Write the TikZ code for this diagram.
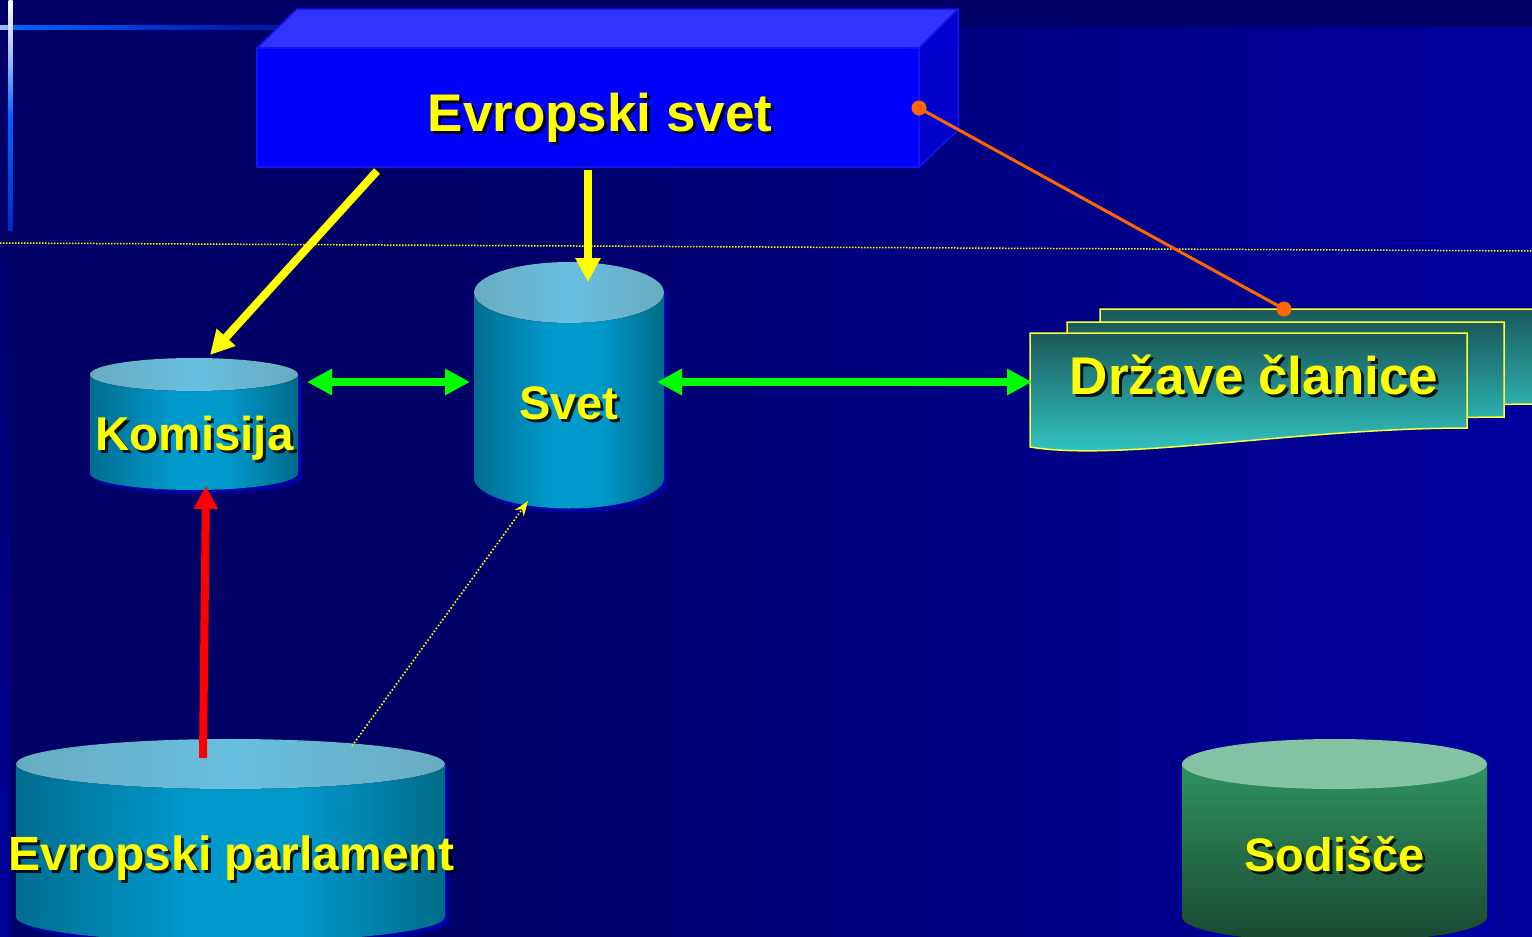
\documentclass[tikz,border=0pt]{standalone}
\usepackage{fontspec}
\setmainfont{Liberation Sans}
\usetikzlibrary{arrows.meta}
\definecolor{bgdark}{HTML}{000066}
\definecolor{bglight}{HTML}{00009A}
\definecolor{glowW}{HTML}{FFFFE4}
\definecolor{glowA}{HTML}{99BBFF}
\definecolor{glowB}{HTML}{0066FF}
\definecolor{glowC}{HTML}{0022BB}
\definecolor{glowD}{HTML}{000099}
\definecolor{boxfront}{HTML}{0000FF}
\definecolor{boxtop}{HTML}{3333FF}
\definecolor{boxside}{HTML}{0000CC}
\definecolor{boxedge}{HTML}{1414F0}
\definecolor{labelyellow}{HTML}{FFFF00}
\definecolor{arrgreen}{HTML}{00FF00}
\definecolor{arrred}{HTML}{FF0000}
\definecolor{arrorange}{HTML}{FF6600}
\definecolor{cylA}{HTML}{004C62}
\definecolor{cylB}{HTML}{0099CC}
\definecolor{cylC}{HTML}{00424F}
\definecolor{ctA}{HTML}{6896A0}
\definecolor{ctB}{HTML}{68C0E0}
\definecolor{sodTop}{HTML}{2F9262}
\definecolor{sodBot}{HTML}{1A4830}
\definecolor{sodCap}{HTML}{84C2A4}
\definecolor{docTop}{HTML}{1A5A5A}
\definecolor{docBot}{HTML}{34CCCC}
\definecolor{docEdge}{HTML}{FFFF33}
\definecolor{cylshadow}{HTML}{0000A8}
\pgfdeclarehorizontalshading{bgshade}{100bp}{color(0bp)=(bgdark); color(38bp)=(bgdark); color(72bp)=(bglight); color(100bp)=(bglight)}
\pgfdeclarehorizontalshading{cylsideshade}{100bp}{color(0bp)=(cylA); color(10bp)=(cylA); color(45bp)=(cylB); color(58bp)=(cylB); color(90bp)=(cylC); color(100bp)=(cylC)}
\pgfdeclarehorizontalshading{cyltopshade}{100bp}{color(0bp)=(ctA); color(50bp)=(ctB); color(100bp)=(ctA)}
\pgfdeclarehorizontalshading{hglow}{100bp}{color(0bp)=(glowW); color(12bp)=(glowW); color(26bp)=(glowA); color(27bp)=(glowB); color(60bp)=(glowC); color(100bp)=(bgdark)}
\pgfdeclareverticalshading{vglow}{100bp}{color(0bp)=(glowD); color(20bp)=(glowC); color(50bp)=(glowB); color(62bp)=(glowA); color(75bp)=(glowW); color(100bp)=(glowW)}
\newcommand\shlabel[4]{%
  \node[lblsh, font={\bfseries\fontsize{#3}{#3}\selectfont}] (#1-sh) at (#2) {#4};
  \node[lbl, font={\bfseries\fontsize{#3}{#3}\selectfont}] (#1) at (#2) {#4};
}
% #1 cx, #2 ytop, #3 ybot, #4 a, #5 b, #6 side style, #7 cap style
\newcommand\mycyl[7]{%
  \fill[cylshadow, shift={(4,4)}] ({#1-#4},#2) -- ({#1-#4},#3)
     .. controls ({#1-#4},{#3+0.5523*#5}) and ({#1-0.5523*#4},{#3+#5}) .. (#1,{#3+#5})
     .. controls ({#1+0.5523*#4},{#3+#5}) and ({#1+#4},{#3+0.5523*#5}) .. ({#1+#4},#3)
     -- ({#1+#4},#2)
     .. controls ({#1+#4},{#2-0.5523*#5}) and ({#1+0.5523*#4},{#2-#5}) .. (#1,{#2-#5})
     .. controls ({#1-0.5523*#4},{#2-#5}) and ({#1-#4},{#2-0.5523*#5}) .. ({#1-#4},#2) -- cycle;
  \fill[#6] ({#1-#4},#2) -- ({#1-#4},#3)
     .. controls ({#1-#4},{#3+0.5523*#5}) and ({#1-0.5523*#4},{#3+#5}) .. (#1,{#3+#5})
     .. controls ({#1+0.5523*#4},{#3+#5}) and ({#1+#4},{#3+0.5523*#5}) .. ({#1+#4},#3)
     -- ({#1+#4},#2) -- cycle;
  \fill[#7] (#1,#2) ellipse [x radius=#4, y radius=#5];
}
\newcommand\docpage[2]{%
  \filldraw[docstyle, shift={(#1,#2)}] (1030,333) -- (1467,333) -- (1467,428)
     .. controls (1300,428) and (1120,462) .. (1030,447) -- cycle;
}
\tikzset{
  lbl/.style={text=labelyellow, inner sep=0pt, anchor=base},
  lblsh/.style={text=black, opacity=.85, inner sep=0pt, anchor=base, xshift=3pt, yshift=-3pt},
  fatyellow/.style={draw=labelyellow, line width=8pt, -{Triangle[length=24pt,width=24pt]}},
  fatred/.style={draw=arrred, line width=8pt, -{Triangle[length=23pt,width=23pt]}},
  fatgreen/.style={draw=arrgreen, line width=8pt, {Triangle[length=25pt,width=25pt]}-{Triangle[length=25pt,width=25pt]}},
  dotarrow/.style={draw=labelyellow, line width=1.6pt, dash pattern=on 1.6pt off 2pt, -{Stealth[length=15pt,width=11pt]}},
  guideline/.style={draw=labelyellow, line width=1.5pt, dash pattern=on 1.5pt off 1.5pt},
  orangeline/.style={draw=arrorange, line width=3pt},
  boxface/.style={draw=boxedge, line width=1.5pt, line join=round},
  docstyle/.style={top color=docTop, bottom color=docBot, draw=docEdge, line width=1.5pt},
  bluecylside/.style={shading=cylsideshade},
  bluecylcap/.style={shading=cyltopshade},
  greencylside/.style={top color=sodTop, bottom color=sodBot},
  greencylcap/.style={fill=sodCap},
}
\begin{document}
\begin{tikzpicture}[x=1pt,y=-1pt]
\useasboundingbox (0,0) rectangle (1532,937);
% background
\fill[bgdark] (0,0) rectangle (1532,937);
\shade[shading=bgshade] (10,27) rectangle (1532,937);
\shade[top color=bgdark, bottom color=bglight] (0,150) rectangle (10,937);
\shade[shading=hglow] (0,25) rectangle (300,29.5);
\shade[shading=vglow] (8.5,0) rectangle (12.5,230);
% guide line
\coordinate (hl-a) at (0,243);
\coordinate (hl-b) at (1532,251);
\draw[guideline] (hl-a) -- (hl-b);
% Evropski svet box
\filldraw[boxface, fill=boxtop] (257,48) -- (297,9) -- (958,9) -- (919,48) -- cycle;
\filldraw[boxface, fill=boxside] (919,48) -- (958,9) -- (958,130) -- (919,167) -- cycle;
\filldraw[boxface, fill=boxfront] (257,48) rectangle (919,167);
% Drzave clanice pages
\docpage{70}{-24}
\docpage{37}{-11}
\docpage{0}{0}
% cylinders
\mycyl{194}{374.5}{473.5}{104}{16.5}{bluecylside}{bluecylcap}
\mycyl{569}{292.5}{478}{95}{30.5}{bluecylside}{bluecylcap}
\mycyl{230.5}{764}{917}{214.5}{25}{bluecylside}{bluecylcap}
\mycyl{1334.5}{764}{917}{152.5}{25}{greencylside}{greencylcap}
% connector ends
\coordinate (es-l) at (377,171);
\coordinate (kom-t) at (210,355);
\coordinate (es-b) at (588,170);
\coordinate (svet-t) at (588,282);
\coordinate (kom-r) at (307,382);
\coordinate (svet-l) at (470,382);
\coordinate (svet-r) at (657,382);
\coordinate (dc-l) at (1032,382);
\coordinate (ep-t) at (203,758);
\coordinate (kom-b) at (206,486);
\coordinate (ep-tr) at (352,746);
\coordinate (svet-b) at (528,501);
\coordinate (es-r) at (919,108);
\coordinate (dc-t) at (1284,309);
% connectors
\draw[fatyellow] (es-l) -- (kom-t);
\draw[fatyellow] (es-b) -- (svet-t);
\draw[fatgreen] (kom-r) -- (svet-l);
\draw[fatgreen] (svet-r) -- (dc-l);
\draw[fatred] (ep-t) -- (kom-b);
\draw[dotarrow] (ep-tr) -- (svet-b);
\draw[orangeline] (es-r) -- (dc-t);
\fill[arrorange] (es-r) circle[radius=7.5pt];
\fill[arrorange] (dc-t) circle[radius=7.5pt];
% labels
\shlabel{es}{600,131}{53}{Evropski svet}
\shlabel{kom}{194.5,450.5}{47.5}{Komisija}
\shlabel{svet}{569,419.5}{47}{Svet}
\shlabel{dc}{1254,394}{53}{Države članice}
\shlabel{ep}{231.5,870}{48}{Evropski parlament}
\shlabel{sod}{1334.5,871}{47}{Sodišče}
\end{tikzpicture}
\end{document}
